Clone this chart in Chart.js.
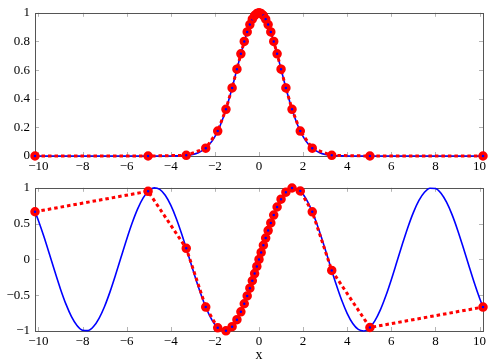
<!DOCTYPE html>
<html>
<head>
<meta charset="utf-8">
<script src="https://cdn.jsdelivr.net/npm/chart.js@4.4.1/dist/chart.umd.min.js"></script>
<style>
  html, body { margin: 0; padding: 0; background: #fff; }
  #top { position: absolute; left: 0; top: 0; width: 491px; height: 175px; }
  #bot { position: absolute; left: 0; top: 175px; width: 491px; height: 189px; }
</style>
</head>
<body>
<div id="top"><canvas id="topChart"></canvas></div>
<div id="bot"><canvas id="botChart"></canvas></div>
<script>
// sample points (red markers), shared by both panels
const nodeX = [-10.153, -5.027, -3.297, -2.414, -1.871, -1.497, -1.219, -1.0, -0.821, -0.668, -0.535, -0.414, -0.303, -0.199, -0.098,
  0, 0.098, 0.199, 0.303, 0.414, 0.535, 0.668, 0.821, 1.0, 1.219, 1.497, 1.871, 2.414, 3.297, 5.027, 10.153];
const gaussNodeY = [0, 0, 0.0044, 0.0543, 0.1738, 0.3261, 0.4757, 0.6065, 0.7139, 0.8000, 0.8667, 0.9179, 0.9551, 0.9804, 0.9952,
  1, 0.9952, 0.9804, 0.9551, 0.9179, 0.8667, 0.8000, 0.7139, 0.6065, 0.4757, 0.3261, 0.1738, 0.0543, 0.0044, 0, 0];
const sinNodeY = [0.6655, 0.9510, 0.1548, -0.6651, -0.9552, -0.9973, -0.9389, -0.8415, -0.7318, -0.6195, -0.5098, -0.4023, -0.2984, -0.1977, -0.0978,
  0, 0.0978, 0.1977, 0.2984, 0.4023, 0.5098, 0.6195, 0.7318, 0.8415, 0.9389, 0.9973, 0.9552, 0.6651, -0.1548, -0.9510, -0.6655];

// smooth curves (blue)
const gaussX = [-10.153, -4, -3.75, -3.5, -3.25, -3, -2.75, -2.5, -2.25, -2, -1.75, -1.5, -1.25, -1, -0.75, -0.5, -0.25,
  0, 0.25, 0.5, 0.75, 1, 1.25, 1.5, 1.75, 2, 2.25, 2.5, 2.75, 3, 3.25, 3.5, 3.75, 4, 10.153];
const gaussY = [0, 0.0003, 0.0009, 0.0022, 0.0051, 0.0111, 0.0228, 0.0439, 0.0796, 0.1353, 0.2163, 0.3247, 0.4578, 0.6065, 0.7548, 0.8825, 0.9692,
  1, 0.9692, 0.8825, 0.7548, 0.6065, 0.4578, 0.3247, 0.2163, 0.1353, 0.0796, 0.0439, 0.0228, 0.0111, 0.0051, 0.0022, 0.0009, 0.0003, 0];

const sinX = [-10.153, -10, -9.75, -9.5, -9.25, -9, -8.75, -8.5, -8.25, -8, -7.75, -7.5, -7.25, -7, -6.75, -6.5, -6.25, -6,
  -5.75, -5.5, -5.25, -5, -4.75, -4.5, -4.25, -4, -3.75, -3.5, -3.25, -3, -2.75, -2.5, -2.25, -2, -1.75, -1.5, -1.25, -1,
  -0.75, -0.5, -0.25, 0, 0.25, 0.5, 0.75, 1, 1.25, 1.5, 1.75, 2, 2.25, 2.5, 2.75, 3, 3.25, 3.5, 3.75, 4, 4.25, 4.5, 4.75,
  5, 5.25, 5.5, 5.75, 6, 6.25, 6.5, 6.75, 7, 7.25, 7.5, 7.75, 8, 8.25, 8.5, 8.75, 9, 9.25, 9.5, 9.75, 10, 10.153];
const sinY = [0.6655, 0.5440, 0.3195, 0.0752, -0.1739, -0.4121, -0.6248, -0.7985, -0.9227, -0.9894, -0.9946, -0.9380, -0.8231, -0.6570, -0.4500, -0.2151, 0.0332, 0.2794,
  0.5083, 0.7055, 0.8589, 0.9589, 0.9993, 0.9775, 0.8950, 0.7568, 0.5716, 0.3508, 0.1082, -0.1411, -0.3817, -0.5985, -0.7781, -0.9093, -0.9840, -0.9975, -0.9490, -0.8415,
  -0.6816, -0.4794, -0.2474, 0, 0.2474, 0.4794, 0.6816, 0.8415, 0.9490, 0.9975, 0.9840, 0.9093, 0.7781, 0.5985, 0.3817, 0.1411, -0.1082, -0.3508, -0.5716, -0.7568, -0.8950, -0.9775, -0.9993,
  -0.9589, -0.8589, -0.7055, -0.5083, -0.2794, -0.0332, 0.2151, 0.4500, 0.6570, 0.8231, 0.9380, 0.9946, 0.9894, 0.9228, 0.7985, 0.6248, 0.4121, 0.1739, -0.0752, -0.3195, -0.5440, -0.6655];

const xTicks = [-10, -8, -6, -4, -2, 0, 2, 4, 6, 8, 10];
const topYTicks = [0, 0.2, 0.4, 0.6, 0.8, 1];
const botYTicks = [-1, -0.5, 0, 0.5, 1];

const tickFont = { family: 'Liberation Serif', size: 13 };
const fmt = v => String(v).replace('-', '\u2212');
const pts = (xs, ys) => xs.map((x, i) => ({ x: x, y: ys[i] }));

// frame + inward tick marks like pgfplots
const framePlugin = {
    id: 'frame',
    beforeDatasetsDraw(chart) {
        const { ctx, chartArea: a, scales } = chart;
        ctx.save();
        ctx.strokeStyle = '#b4b4b4';
        ctx.lineWidth = 1;
        ctx.beginPath();
        scales.x.ticks.forEach(t => {
            const px = Math.round(scales.x.getPixelForValue(t.value)) + 0.5;
            ctx.moveTo(px, a.bottom); ctx.lineTo(px, a.bottom - 4);
            ctx.moveTo(px, a.top); ctx.lineTo(px, a.top + 4);
        });
        scales.y.ticks.forEach(t => {
            const py = Math.round(scales.y.getPixelForValue(t.value)) + 0.5;
            ctx.moveTo(a.left, py); ctx.lineTo(a.left + 4, py);
            ctx.moveTo(a.right, py); ctx.lineTo(a.right - 4, py);
        });
        ctx.stroke();
        ctx.strokeStyle = '#555';
        ctx.strokeRect(Math.round(a.left) + 0.5, Math.round(a.top) + 0.5,
            Math.round(a.width), Math.round(a.height));
        ctx.restore();
    }
};

function makeChart(id, nodeY, curveX, curveY, yMin, yMax, yTicks, xHeight, withTitle) {
    return new Chart(id, {
        type: 'line',
        data: {
            datasets: [{
                data: pts(nodeX, nodeY),
                borderColor: '#ff0000',
                borderWidth: 3,
                borderDash: [3.5, 3],
                pointRadius: 3,
                pointBorderWidth: 3.5,
                pointBorderColor: '#ff0000',
                pointBackgroundColor: '#0000ff',
                tension: 0,
                clip: false,
            }, {
                data: pts(curveX, curveY),
                borderColor: '#0000ff',
                borderWidth: 1.6,
                pointRadius: 0,
                cubicInterpolationMode: 'monotone',
                clip: false,
            }]
        },
        options: {
            responsive: true,
            maintainAspectRatio: false,
            animation: false,
            layout: { padding: { top: 8, right: 8, left: 0, bottom: 0 } },
            plugins: { legend: { display: false }, tooltip: { enabled: false } },
            scales: {
                x: {
                    type: 'linear',
                    min: -10.153,
                    max: 10.153,
                    afterBuildTicks: s => { s.ticks = xTicks.map(v => ({ value: v })); },
                    afterFit: s => { s.height = xHeight; },
                    grid: { display: false, drawTicks: false },
                    border: { display: false },
                    ticks: { color: '#000', font: tickFont, padding: 3, maxRotation: 0, callback: fmt },
                    title: {
                        display: withTitle,
                        text: 'x',
                        color: '#000',
                        font: { family: 'Liberation Serif', size: 14 },
                        padding: { top: 0, bottom: 0 }
                    }
                },
                y: {
                    min: yMin,
                    max: yMax,
                    afterBuildTicks: s => { s.ticks = yTicks.map(v => ({ value: v })); },
                    afterFit: s => { s.width = 35; },
                    grid: { display: false, drawTicks: false },
                    border: { display: false },
                    ticks: { color: '#000', font: tickFont, padding: 5, callback: fmt }
                }
            }
        },
        plugins: [framePlugin]
    });
}

makeChart('topChart', gaussNodeY, gaussX, gaussY, 0, 1, topYTicks, 19, false);
makeChart('botChart', sinNodeY, sinX, sinY, -1, 1, botYTicks, 33, true);
</script>
</body>
</html>
